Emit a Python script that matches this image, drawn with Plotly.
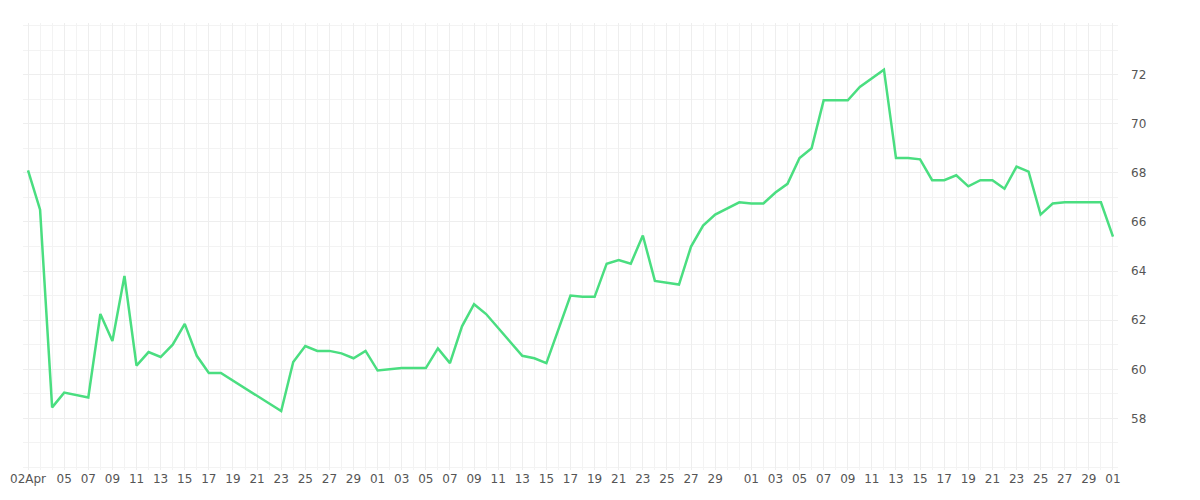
import pandas as pd
import plotly.graph_objects as go

day_offsets = [0, 1, 2, 3, 5, 6, 7, 8, 9, 10, 11, 12, 13, 14, 15, 16, 21, 22, 23, 24,
               25, 26, 27, 28, 29, 31, 33, 34, 35, 36, 37, 38, 41, 42, 43, 45, 46, 47, 48, 49,
               50, 51, 52, 54, 55, 56, 57, 59, 60, 61, 62, 63, 64, 65, 66, 68, 69, 70, 71, 72,
               73, 74, 75, 76, 77, 78, 79, 80, 81, 82, 83, 84, 85, 86, 89, 90]
values = [68.1, 66.5, 58.45, 59.05, 58.85, 62.25, 61.15, 63.8, 60.15, 60.7, 60.5, 61.0, 61.85, 60.55, 59.85, 59.85, 58.3, 60.3, 60.95, 60.75,
          60.75, 60.65, 60.45, 60.75, 59.95, 60.05, 60.05, 60.85, 60.25, 61.75, 62.65, 62.25, 60.55, 60.45, 60.25, 63.0, 62.95, 62.95, 64.3, 64.45,
          64.3, 65.45, 63.6, 63.45, 65.0, 65.85, 66.3, 66.8, 66.75, 66.75, 67.2, 67.55, 68.6, 69.0, 70.95, 70.95, 71.5, 71.85, 72.2, 68.6,
          68.6, 68.55, 67.7, 67.7, 67.9, 67.45, 67.7, 67.7, 67.35, 68.25, 68.05, 66.3, 66.75, 66.8, 66.8, 65.4]
start = pd.Timestamp("2023-04-02")

tick_dates = [start]
for m in [4, 5, 6]:
    for d in range(5 if m == 4 else 1, 31, 2):
        tick_dates.append(pd.Timestamp(2023, m, d))
tick_dates.append(pd.Timestamp("2023-07-01"))
tick_text = ["02Apr"] + [t.strftime("%d") for t in tick_dates[1:]]

dates = [start + pd.Timedelta(days=o) for o in day_offsets]

fig = go.Figure(go.Scatter(
    x=dates, y=values, mode="lines",
    line=dict(color="#4ade80", width=2.5),
))

fig.update_layout(
    width=1200, height=500,
    margin=dict(l=15, r=90, t=15, b=38, autoexpand=False),
    paper_bgcolor="white", plot_bgcolor="white",
    showlegend=False,
    font=dict(family="DejaVu Sans", size=12, color="#555"),
)
fig.update_xaxes(
    range=[start - pd.Timedelta(hours=10), pd.Timestamp("2023-07-01") + pd.Timedelta(hours=10)],
    tickvals=tick_dates, ticktext=tick_text, tickangle=0, automargin=False,
    showgrid=True, gridcolor="#eeeeee", gridwidth=1,
    minor=dict(dtick=86400000, showgrid=True, gridcolor="#f3f3f3"),
    zeroline=False, showline=False, ticks="",
)
fig.update_yaxes(
    side="right", range=[55.9, 74.1], tickvals=[58, 60, 62, 64, 66, 68, 70, 72],
    automargin=False, ticklabelstandoff=12,
    showgrid=True, gridcolor="#eeeeee",
    minor=dict(dtick=1, showgrid=True, gridcolor="#f3f3f3"),
    zeroline=False, showline=False, ticks="",
)

fig.write_html("out.html")
